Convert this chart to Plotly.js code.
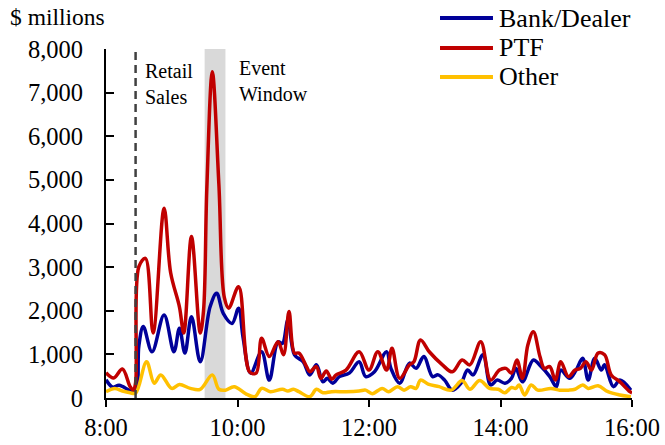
<!DOCTYPE html>
<html>
<head>
<meta charset="utf-8">
<script src="https://cdn.plot.ly/plotly-3.0.1.min.js"></script>
<style>html,body{margin:0;padding:0;background:#fff;}#chart{width:665px;height:445px;}</style>
</head>
<body>
<div id="chart"></div>
<script>
// ---- Data ----
const seriesNames = ["Bank/Dealer", "PTF", "Other"];

const bankTimes = ["8:00","8:06","8:12","8:22","8:27","8:30","8:34","8:42","8:53","9:02","9:07","9:12","9:18","9:26","9:35","9:41","9:47","9:55","10:01","10:05","10:12","10:22","10:29","10:37","10:41","10:46","10:52","11:00","11:06","11:12","11:18","11:22","11:27","11:33","11:42","11:51","11:57","12:05","12:16","12:20","12:28","12:37","12:43","12:50","12:58","13:03","13:09","13:16","13:24","13:30","13:35","13:44","13:51","13:57","14:04","14:10","14:14","14:20","14:30","14:37","14:45","14:51","14:55","15:03","15:09","15:15","15:20","15:26","15:32","15:35","15:43","15:49","15:59"];
const bankValues = [420,250,290,170,150,1200,1640,1060,1900,1060,1600,1030,1860,830,2090,2400,1940,1710,2060,1400,570,1060,410,1290,1250,1790,990,830,530,760,370,450,340,490,570,830,490,600,1060,680,340,800,680,950,490,530,410,180,340,640,530,990,300,410,340,450,680,370,870,720,490,260,640,450,640,910,410,910,640,760,260,410,180];

const ptfTimes = ["8:00","8:07","8:15","8:22","8:25","8:27","8:30","8:36","8:43","8:53","8:59","9:07","9:11","9:18","9:26","9:29","9:32","9:37","9:43","9:48","9:52","10:01","10:11","10:17","10:22","10:29","10:37","10:42","10:47","10:52","10:56","11:03","11:06","11:12","11:16","11:21","11:26","11:30","11:39","11:51","12:00","12:08","12:16","12:21","12:28","12:37","12:41","12:47","12:55","13:07","13:16","13:25","13:32","13:42","13:51","13:59","14:05","14:10","14:15","14:20","14:25","14:30","14:36","14:40","14:45","14:50","14:55","15:02","15:08","15:13","15:18","15:23","15:29","15:35","15:41","15:49","15:58","16:00"];
const ptfValues = [580,460,665,260,180,350,3010,3200,1490,4350,2870,2090,1490,3700,1490,2000,4800,7480,4900,2300,2060,2550,600,570,1370,950,1290,990,1980,1030,1030,720,600,720,450,620,430,530,640,1060,640,1060,640,1140,450,760,830,1330,1060,760,600,870,760,1290,410,640,680,570,870,450,1220,1520,950,680,720,410,830,490,640,680,830,640,1030,990,530,370,145,120];

const otherTimes = ["8:00","8:08","8:15","8:22","8:27","8:37","8:44","8:50","9:00","9:07","9:17","9:26","9:37","9:43","9:49","9:57","10:08","10:16","10:22","10:30","10:41","10:46","10:51","10:56","11:06","11:12","11:18","11:26","11:39","11:51","11:57","12:03","12:12","12:18","12:26","12:32","12:38","12:43","12:47","12:54","13:04","13:15","13:25","13:32","13:41","13:50","13:58","14:04","14:10","14:14","14:17","14:22","14:28","14:34","14:46","14:54","15:02","15:08","15:15","15:20","15:29","15:38","15:49","15:59"];
const otherValues = [145,220,160,120,110,830,340,530,220,310,220,200,530,200,180,260,90,30,220,145,200,160,200,145,30,200,120,145,145,160,180,100,220,145,260,180,260,220,410,320,260,180,400,200,400,220,200,120,240,220,300,70,300,180,220,180,180,200,300,220,280,145,70,30];

const xTickLabels = ["8:00","10:00","12:00","14:00","16:00"];
const retailSalesTime = "8:27";
const eventWindow = ["9:30","9:49"];
const yMax = 8000;

// ---- Helpers ----
function toDate(t){ const p = t.split(":"); return "2000-01-01 " + (p[0].length<2?"0"+p[0]:p[0]) + ":" + p[1] + ":00"; }

const colors = ["#000099", "#C00000", "#FFC000"];
const FONT = "Liberation Serif";

const traces = [
  {x: bankTimes.map(toDate), y: bankValues, name: seriesNames[0]},
  {x: ptfTimes.map(toDate), y: ptfValues, name: seriesNames[1]},
  {x: otherTimes.map(toDate), y: otherValues, name: seriesNames[2]}
].map((t,i)=>Object.assign(t,{type:"scatter",mode:"lines",showlegend:false,
  line:{color:colors[i],width:3.5,shape:"spline",smoothing:1}}));

// custom legend (paper coords) to match the reference layout
const legendY = [1.0888, 1.0029, 0.9198];
const shapes = [
  {type:"rect", xref:"x", yref:"y", x0:toDate(eventWindow[0]), x1:toDate(eventWindow[1]), y0:0, y1:yMax,
   fillcolor:"#D9D9D9", line:{width:0}, layer:"below"},
  {type:"line", xref:"x", yref:"y", x0:toDate(retailSalesTime), x1:toDate(retailSalesTime), y0:0, y1:yMax,
   line:{color:"#404040", width:2.5, dash:"8px,5px"}, layer:"above"}
];
seriesNames.forEach((n,i)=>{
  shapes.push({type:"line", xref:"paper", yref:"paper", x0:0.635, x1:0.7357, y0:legendY[i], y1:legendY[i],
    line:{color:colors[i], width:4}});
});

const annotations = [
  {xref:"paper", yref:"paper", x:-0.1863, y:1.0917, xanchor:"left", yanchor:"middle", showarrow:false,
   text:"$ millions", font:{family:FONT, size:23.5, color:"#000"}},
  {xref:"paper", yref:"paper", x:0.0703, y:0.901, xanchor:"left", yanchor:"middle", showarrow:false, align:"left",
   text:"Retail<br>Sales", font:{family:FONT, size:20, color:"#000"}},
  {xref:"paper", yref:"paper", x:0.249, y:0.907, xanchor:"left", yanchor:"middle", showarrow:false, align:"left",
   text:"Event<br>Window", font:{family:FONT, size:20, color:"#000"}}
];
seriesNames.forEach((n,i)=>{
  annotations.push({xref:"paper", yref:"paper", x:0.7433, y:legendY[i], xanchor:"left", yanchor:"middle",
    showarrow:false, text:n, font:{family:FONT, size:26, color:"#000"}});
});

const layout = {
  width:665, height:445,
  margin:{l:106, r:33, t:49, b:47, pad:0},
  paper_bgcolor:"#fff", plot_bgcolor:"#fff",
  font:{family:FONT, size:24.5, color:"#000"},
  showlegend:false,
  xaxis:{type:"date", range:[toDate("8:00"), toDate("16:00")],
    tickvals:xTickLabels.map(toDate), ticktext:xTickLabels,
    showline:true, linecolor:"#000", linewidth:2, ticks:"outside", ticklen:7, tickwidth:2, tickcolor:"#000",
    showgrid:false, zeroline:false, tickfont:{family:FONT, size:24.5, color:"#000"}, ticklabelstandoff:0},
  yaxis:{range:[0,yMax], dtick:1000, tick0:0, tickformat:",d",
    showline:true, linecolor:"#000", linewidth:2, ticks:"inside", ticklen:8, tickwidth:2, tickcolor:"#000",
    showgrid:false, zeroline:false, tickfont:{family:FONT, size:24.5, color:"#000"}, ticklabelstandoff:16},
  shapes:shapes,
  annotations:annotations
};

Plotly.newPlot("chart", traces, layout, {staticPlot:true, displayModeBar:false});
</script>
</body>
</html>
